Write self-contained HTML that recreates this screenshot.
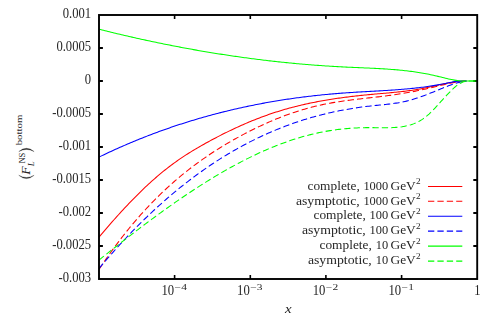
<!DOCTYPE html><html><head><meta charset="utf-8"><title>plot</title><style>html,body{margin:0;padding:0;background:#fff;overflow:hidden}svg{display:block}text{font-family:"Liberation Serif",serif;fill:#262626}</style></head><body>
<svg width="496" height="319" viewBox="0 0 496 319">
<defs><filter id="b" x="-5%" y="-5%" width="110%" height="110%"><feGaussianBlur stdDeviation="0.35"/></filter></defs>
<rect width="496" height="319" fill="#fff"/>
<g filter="url(#b)">
<g stroke="#000" fill="none">
<path d="M99,48 h3.9 M477.2,48 h-3.9" stroke-width="1.8"/>
<path d="M99,81 h3.9 M477.2,81 h-3.9" stroke-width="1.8"/>
<path d="M99,114 h3.9 M477.2,114 h-3.9" stroke-width="1.8"/>
<path d="M99,147 h3.9 M477.2,147 h-3.9" stroke-width="1.8"/>
<path d="M99,180 h3.9 M477.2,180 h-3.9" stroke-width="1.8"/>
<path d="M99,213 h3.9 M477.2,213 h-3.9" stroke-width="1.8"/>
<path d="M99,246 h3.9 M477.2,246 h-3.9" stroke-width="1.8"/>
<path d="M174.6,279 v-3.9 M174.6,15 v3.9" stroke-width="1.6"/>
<path d="M250.3,279 v-3.9 M250.3,15 v3.9" stroke-width="1.6"/>
<path d="M325.9,279 v-3.9 M325.9,15 v3.9" stroke-width="1.6"/>
<path d="M401.6,279 v-3.9 M401.6,15 v3.9" stroke-width="1.6"/>
</g>
<g fill="none" stroke-width="1.05" stroke-linejoin="round">
<path d="M99.0,237.08 L100.5,235.31 L102.0,233.55 L103.5,231.80 L105.0,230.05 L106.5,228.31 L108.0,226.59 L109.5,224.87 L111.0,223.16 L112.5,221.46 L114.0,219.76 L115.5,218.08 L117.0,216.41 L118.5,214.75 L120.0,213.10 L121.5,211.47 L123.0,209.84 L124.5,208.22 L126.0,206.62 L127.5,205.03 L129.0,203.45 L130.5,201.89 L132.0,200.33 L133.5,198.80 L135.0,197.27 L136.5,195.76 L138.0,194.26 L139.5,192.78 L141.0,191.31 L142.5,189.85 L144.0,188.41 L145.5,186.99 L147.0,185.58 L148.5,184.19 L150.0,182.82 L151.5,181.46 L153.0,180.11 L154.5,178.79 L156.0,177.48 L157.5,176.19 L159.0,174.92 L160.5,173.66 L162.0,172.42 L163.5,171.20 L165.0,169.99 L166.5,168.81 L168.0,167.64 L169.5,166.49 L171.0,165.35 L172.5,164.23 L174.0,163.14 L175.5,162.05 L177.0,160.99 L178.5,159.94 L180.0,158.91 L181.5,157.89 L183.0,156.89 L184.5,155.90 L186.0,154.93 L187.5,153.97 L189.0,153.02 L190.5,152.09 L192.0,151.17 L193.5,150.25 L195.0,149.36 L196.5,148.47 L198.0,147.59 L199.5,146.72 L201.0,145.86 L202.5,145.01 L204.0,144.17 L205.5,143.33 L207.0,142.50 L208.5,141.68 L210.0,140.87 L211.5,140.06 L213.0,139.26 L214.5,138.47 L216.0,137.68 L217.5,136.90 L219.0,136.12 L220.5,135.35 L222.0,134.59 L223.5,133.84 L225.0,133.09 L226.5,132.35 L228.0,131.61 L229.5,130.89 L231.0,130.17 L232.5,129.45 L234.0,128.75 L235.5,128.05 L237.0,127.36 L238.5,126.67 L240.0,126.00 L241.5,125.33 L243.0,124.67 L244.5,124.01 L246.0,123.36 L247.5,122.73 L249.0,122.09 L250.5,121.47 L252.0,120.85 L253.5,120.25 L255.0,119.65 L256.5,119.05 L258.0,118.47 L259.5,117.89 L261.0,117.33 L262.5,116.77 L264.0,116.22 L265.5,115.67 L267.0,115.14 L268.5,114.61 L270.0,114.09 L271.5,113.58 L273.0,113.08 L274.5,112.59 L276.0,112.11 L277.5,111.63 L279.0,111.16 L280.5,110.70 L282.0,110.25 L283.5,109.81 L285.0,109.37 L286.5,108.94 L288.0,108.52 L289.5,108.11 L291.0,107.70 L292.5,107.30 L294.0,106.91 L295.5,106.53 L297.0,106.15 L298.5,105.78 L300.0,105.42 L301.5,105.06 L303.0,104.72 L304.5,104.37 L306.0,104.04 L307.5,103.71 L309.0,103.38 L310.5,103.07 L312.0,102.76 L313.5,102.45 L315.0,102.15 L316.5,101.86 L318.0,101.57 L319.5,101.29 L321.0,101.02 L322.5,100.75 L324.0,100.48 L325.5,100.22 L327.0,99.97 L328.5,99.72 L330.0,99.48 L331.5,99.24 L333.0,99.01 L334.5,98.78 L336.0,98.55 L337.5,98.33 L339.0,98.12 L340.5,97.91 L342.0,97.70 L343.5,97.50 L345.0,97.30 L346.5,97.11 L348.0,96.92 L349.5,96.74 L351.0,96.55 L352.5,96.38 L354.0,96.20 L355.5,96.03 L357.0,95.86 L358.5,95.70 L360.0,95.54 L361.5,95.38 L363.0,95.23 L364.5,95.08 L366.0,94.93 L367.5,94.78 L369.0,94.64 L370.5,94.50 L372.0,94.36 L373.5,94.23 L375.0,94.10 L376.5,93.96 L378.0,93.83 L379.5,93.70 L381.0,93.57 L382.5,93.44 L384.0,93.31 L385.5,93.18 L387.0,93.05 L388.5,92.92 L390.0,92.78 L391.5,92.64 L393.0,92.50 L394.5,92.35 L396.0,92.20 L397.5,92.05 L399.0,91.89 L400.5,91.73 L402.0,91.56 L403.5,91.38 L405.0,91.20 L406.5,91.01 L408.0,90.82 L409.5,90.61 L411.0,90.40 L412.5,90.18 L414.0,89.95 L415.5,89.71 L417.0,89.47 L418.5,89.21 L420.0,88.94 L421.5,88.66 L423.0,88.37 L424.5,88.07 L426.0,87.76 L427.5,87.44 L429.0,87.12 L430.5,86.80 L432.0,86.47 L433.5,86.14 L435.0,85.81 L436.5,85.48 L438.0,85.15 L439.5,84.82 L441.0,84.50 L442.5,84.19 L444.0,83.88 L445.5,83.59 L447.0,83.30 L448.5,83.02 L450.0,82.76 L451.5,82.51 L453.0,82.27 L454.5,82.05 L456.0,81.84 L457.5,81.65 L459.0,81.48 L460.5,81.32 L462.0,81.19 L463.5,81.07 L465.0,81.00 L466.5,81.00" stroke="#ff0000"/>
<path d="M99.0,269.42 L100.5,267.17 L102.0,264.93 L103.5,262.72 L105.0,260.53 L106.5,258.37 L108.0,256.22 L109.5,254.10 L111.0,252.01 L112.5,249.93 L114.0,247.88 L115.5,245.84 L117.0,243.83 L118.5,241.84 L120.0,239.88 L121.5,237.93 L123.0,236.00 L124.5,234.10 L126.0,232.21 L127.5,230.35 L129.0,228.51 L130.5,226.68 L132.0,224.88 L133.5,223.09 L135.0,221.33 L136.5,219.58 L138.0,217.86 L139.5,216.15 L141.0,214.46 L142.5,212.79 L144.0,211.14 L145.5,209.51 L147.0,207.90 L148.5,206.30 L150.0,204.72 L151.5,203.16 L153.0,201.62 L154.5,200.09 L156.0,198.58 L157.5,197.09 L159.0,195.62 L160.5,194.16 L162.0,192.72 L163.5,191.29 L165.0,189.88 L166.5,188.49 L168.0,187.11 L169.5,185.75 L171.0,184.40 L172.5,183.07 L174.0,181.76 L175.5,180.46 L177.0,179.17 L178.5,177.90 L180.0,176.64 L181.5,175.40 L183.0,174.17 L184.5,172.96 L186.0,171.75 L187.5,170.57 L189.0,169.39 L190.5,168.23 L192.0,167.09 L193.5,165.95 L195.0,164.83 L196.5,163.72 L198.0,162.62 L199.5,161.54 L201.0,160.47 L202.5,159.40 L204.0,158.36 L205.5,157.32 L207.0,156.29 L208.5,155.28 L210.0,154.27 L211.5,153.28 L213.0,152.30 L214.5,151.33 L216.0,150.37 L217.5,149.42 L219.0,148.47 L220.5,147.54 L222.0,146.62 L223.5,145.71 L225.0,144.81 L226.5,143.91 L228.0,143.03 L229.5,142.15 L231.0,141.29 L232.5,140.43 L234.0,139.58 L235.5,138.74 L237.0,137.90 L238.5,137.08 L240.0,136.26 L241.5,135.45 L243.0,134.65 L244.5,133.85 L246.0,133.07 L247.5,132.29 L249.0,131.52 L250.5,130.76 L252.0,130.00 L253.5,129.26 L255.0,128.52 L256.5,127.80 L258.0,127.08 L259.5,126.36 L261.0,125.66 L262.5,124.97 L264.0,124.28 L265.5,123.60 L267.0,122.94 L268.5,122.28 L270.0,121.63 L271.5,120.98 L273.0,120.35 L274.5,119.73 L276.0,119.11 L277.5,118.50 L279.0,117.90 L280.5,117.32 L282.0,116.74 L283.5,116.16 L285.0,115.60 L286.5,115.05 L288.0,114.51 L289.5,113.97 L291.0,113.45 L292.5,112.93 L294.0,112.43 L295.5,111.93 L297.0,111.44 L298.5,110.96 L300.0,110.49 L301.5,110.03 L303.0,109.59 L304.5,109.15 L306.0,108.71 L307.5,108.29 L309.0,107.88 L310.5,107.48 L312.0,107.09 L313.5,106.71 L315.0,106.34 L316.5,105.97 L318.0,105.62 L319.5,105.28 L321.0,104.95 L322.5,104.63 L324.0,104.31 L325.5,104.01 L327.0,103.72 L328.5,103.43 L330.0,103.16 L331.5,102.89 L333.0,102.63 L334.5,102.37 L336.0,102.13 L337.5,101.89 L339.0,101.66 L340.5,101.43 L342.0,101.21 L343.5,101.00 L345.0,100.79 L346.5,100.58 L348.0,100.38 L349.5,100.19 L351.0,99.99 L352.5,99.81 L354.0,99.62 L355.5,99.44 L357.0,99.26 L358.5,99.08 L360.0,98.91 L361.5,98.74 L363.0,98.57 L364.5,98.40 L366.0,98.23 L367.5,98.06 L369.0,97.89 L370.5,97.72 L372.0,97.55 L373.5,97.38 L375.0,97.21 L376.5,97.03 L378.0,96.86 L379.5,96.68 L381.0,96.50 L382.5,96.32 L384.0,96.14 L385.5,95.95 L387.0,95.76 L388.5,95.56 L390.0,95.36 L391.5,95.16 L393.0,94.95 L394.5,94.73 L396.0,94.51 L397.5,94.28 L399.0,94.05 L400.5,93.81 L402.0,93.57 L403.5,93.32 L405.0,93.06 L406.5,92.80 L408.0,92.53 L409.5,92.26 L411.0,91.98 L412.5,91.70 L414.0,91.41 L415.5,91.12 L417.0,90.82 L418.5,90.51 L420.0,90.20 L421.5,89.89 L423.0,89.57 L424.5,89.24 L426.0,88.91 L427.5,88.57 L429.0,88.23 L430.5,87.89 L432.0,87.54 L433.5,87.18 L435.0,86.82 L436.5,86.46 L438.0,86.09 L439.5,85.73 L441.0,85.36 L442.5,85.00 L444.0,84.64 L445.5,84.29 L447.0,83.95 L448.5,83.62 L450.0,83.29 L451.5,82.99 L453.0,82.69 L454.5,82.41 L456.0,82.15 L457.5,81.91 L459.0,81.69 L460.5,81.49 L462.0,81.32 L463.5,81.17 L465.0,81.04 L466.5,81.00" stroke="#ff0000" stroke-dasharray="6.3 3.1"/>
<path d="M99.0,157.09 L100.5,156.36 L102.0,155.64 L103.5,154.92 L105.0,154.21 L106.5,153.50 L108.0,152.80 L109.5,152.10 L111.0,151.41 L112.5,150.72 L114.0,150.03 L115.5,149.35 L117.0,148.68 L118.5,148.01 L120.0,147.34 L121.5,146.68 L123.0,146.02 L124.5,145.37 L126.0,144.72 L127.5,144.08 L129.0,143.44 L130.5,142.81 L132.0,142.18 L133.5,141.56 L135.0,140.94 L136.5,140.32 L138.0,139.71 L139.5,139.10 L141.0,138.50 L142.5,137.90 L144.0,137.31 L145.5,136.72 L147.0,136.13 L148.5,135.55 L150.0,134.98 L151.5,134.41 L153.0,133.84 L154.5,133.28 L156.0,132.72 L157.5,132.16 L159.0,131.61 L160.5,131.07 L162.0,130.53 L163.5,129.99 L165.0,129.46 L166.5,128.93 L168.0,128.41 L169.5,127.88 L171.0,127.37 L172.5,126.86 L174.0,126.35 L175.5,125.85 L177.0,125.35 L178.5,124.85 L180.0,124.36 L181.5,123.88 L183.0,123.39 L184.5,122.91 L186.0,122.44 L187.5,121.97 L189.0,121.50 L190.5,121.04 L192.0,120.58 L193.5,120.13 L195.0,119.68 L196.5,119.23 L198.0,118.79 L199.5,118.35 L201.0,117.92 L202.5,117.49 L204.0,117.06 L205.5,116.64 L207.0,116.22 L208.5,115.81 L210.0,115.40 L211.5,114.99 L213.0,114.59 L214.5,114.19 L216.0,113.79 L217.5,113.40 L219.0,113.02 L220.5,112.63 L222.0,112.25 L223.5,111.88 L225.0,111.50 L226.5,111.14 L228.0,110.77 L229.5,110.41 L231.0,110.05 L232.5,109.70 L234.0,109.35 L235.5,109.00 L237.0,108.66 L238.5,108.32 L240.0,107.99 L241.5,107.66 L243.0,107.33 L244.5,107.00 L246.0,106.68 L247.5,106.37 L249.0,106.05 L250.5,105.74 L252.0,105.44 L253.5,105.14 L255.0,104.84 L256.5,104.54 L258.0,104.25 L259.5,103.96 L261.0,103.68 L262.5,103.39 L264.0,103.12 L265.5,102.84 L267.0,102.57 L268.5,102.30 L270.0,102.04 L271.5,101.78 L273.0,101.52 L274.5,101.26 L276.0,101.01 L277.5,100.77 L279.0,100.52 L280.5,100.28 L282.0,100.04 L283.5,99.81 L285.0,99.58 L286.5,99.35 L288.0,99.13 L289.5,98.91 L291.0,98.69 L292.5,98.48 L294.0,98.26 L295.5,98.06 L297.0,97.85 L298.5,97.65 L300.0,97.45 L301.5,97.26 L303.0,97.06 L304.5,96.87 L306.0,96.69 L307.5,96.51 L309.0,96.33 L310.5,96.15 L312.0,95.98 L313.5,95.81 L315.0,95.64 L316.5,95.47 L318.0,95.31 L319.5,95.16 L321.0,95.00 L322.5,94.85 L324.0,94.70 L325.5,94.55 L327.0,94.41 L328.5,94.27 L330.0,94.13 L331.5,94.00 L333.0,93.87 L334.5,93.74 L336.0,93.61 L337.5,93.49 L339.0,93.37 L340.5,93.25 L342.0,93.14 L343.5,93.03 L345.0,92.92 L346.5,92.81 L348.0,92.71 L349.5,92.61 L351.0,92.51 L352.5,92.41 L354.0,92.32 L355.5,92.23 L357.0,92.14 L358.5,92.05 L360.0,91.96 L361.5,91.88 L363.0,91.79 L364.5,91.71 L366.0,91.62 L367.5,91.54 L369.0,91.46 L370.5,91.37 L372.0,91.29 L373.5,91.21 L375.0,91.12 L376.5,91.04 L378.0,90.95 L379.5,90.87 L381.0,90.78 L382.5,90.69 L384.0,90.60 L385.5,90.51 L387.0,90.41 L388.5,90.32 L390.0,90.22 L391.5,90.12 L393.0,90.02 L394.5,89.91 L396.0,89.80 L397.5,89.69 L399.0,89.58 L400.5,89.46 L402.0,89.34 L403.5,89.21 L405.0,89.08 L406.5,88.95 L408.0,88.81 L409.5,88.67 L411.0,88.52 L412.5,88.37 L414.0,88.21 L415.5,88.05 L417.0,87.88 L418.5,87.70 L420.0,87.52 L421.5,87.34 L423.0,87.15 L424.5,86.95 L426.0,86.75 L427.5,86.54 L429.0,86.32 L430.5,86.09 L432.0,85.86 L433.5,85.62 L435.0,85.38 L436.5,85.12 L438.0,84.86 L439.5,84.59 L441.0,84.31 L442.5,84.03 L444.0,83.73 L445.5,83.43 L447.0,83.12 L448.5,82.80 L450.0,82.48 L451.5,82.18 L453.0,81.89 L454.5,81.64 L456.0,81.42 L457.5,81.25 L459.0,81.12 L460.5,81.03 L462.0,81.00 L463.5,81.00 L465.0,81.00 L466.5,81.00" stroke="#0000ff"/>
<path d="M99.0,268.50 L100.5,266.71 L102.0,264.93 L103.5,263.16 L105.0,261.41 L106.5,259.66 L108.0,257.93 L109.5,256.20 L111.0,254.49 L112.5,252.79 L114.0,251.11 L115.5,249.43 L117.0,247.76 L118.5,246.11 L120.0,244.47 L121.5,242.84 L123.0,241.22 L124.5,239.61 L126.0,238.01 L127.5,236.42 L129.0,234.85 L130.5,233.28 L132.0,231.73 L133.5,230.19 L135.0,228.66 L136.5,227.14 L138.0,225.63 L139.5,224.13 L141.0,222.64 L142.5,221.17 L144.0,219.70 L145.5,218.25 L147.0,216.80 L148.5,215.37 L150.0,213.95 L151.5,212.53 L153.0,211.13 L154.5,209.74 L156.0,208.36 L157.5,206.99 L159.0,205.64 L160.5,204.29 L162.0,202.95 L163.5,201.62 L165.0,200.31 L166.5,199.00 L168.0,197.70 L169.5,196.42 L171.0,195.14 L172.5,193.88 L174.0,192.63 L175.5,191.38 L177.0,190.15 L178.5,188.92 L180.0,187.71 L181.5,186.51 L183.0,185.31 L184.5,184.13 L186.0,182.96 L187.5,181.79 L189.0,180.64 L190.5,179.50 L192.0,178.36 L193.5,177.24 L195.0,176.13 L196.5,175.02 L198.0,173.93 L199.5,172.84 L201.0,171.77 L202.5,170.71 L204.0,169.65 L205.5,168.61 L207.0,167.57 L208.5,166.54 L210.0,165.53 L211.5,164.52 L213.0,163.52 L214.5,162.54 L216.0,161.56 L217.5,160.59 L219.0,159.63 L220.5,158.68 L222.0,157.74 L223.5,156.81 L225.0,155.89 L226.5,154.97 L228.0,154.07 L229.5,153.18 L231.0,152.29 L232.5,151.42 L234.0,150.55 L235.5,149.69 L237.0,148.84 L238.5,148.00 L240.0,147.17 L241.5,146.35 L243.0,145.54 L244.5,144.74 L246.0,143.94 L247.5,143.16 L249.0,142.38 L250.5,141.61 L252.0,140.85 L253.5,140.10 L255.0,139.36 L256.5,138.63 L258.0,137.90 L259.5,137.19 L261.0,136.48 L262.5,135.78 L264.0,135.09 L265.5,134.41 L267.0,133.74 L268.5,133.07 L270.0,132.42 L271.5,131.77 L273.0,131.13 L274.5,130.50 L276.0,129.88 L277.5,129.26 L279.0,128.66 L280.5,128.06 L282.0,127.47 L283.5,126.89 L285.0,126.32 L286.5,125.75 L288.0,125.19 L289.5,124.65 L291.0,124.10 L292.5,123.57 L294.0,123.05 L295.5,122.53 L297.0,122.02 L298.5,121.52 L300.0,121.03 L301.5,120.54 L303.0,120.07 L304.5,119.60 L306.0,119.13 L307.5,118.68 L309.0,118.23 L310.5,117.79 L312.0,117.36 L313.5,116.94 L315.0,116.52 L316.5,116.11 L318.0,115.71 L319.5,115.32 L321.0,114.93 L322.5,114.55 L324.0,114.18 L325.5,113.81 L327.0,113.45 L328.5,113.10 L330.0,112.76 L331.5,112.42 L333.0,112.09 L334.5,111.77 L336.0,111.45 L337.5,111.14 L339.0,110.84 L340.5,110.54 L342.0,110.25 L343.5,109.97 L345.0,109.70 L346.5,109.43 L348.0,109.16 L349.5,108.91 L351.0,108.66 L352.5,108.41 L354.0,108.18 L355.5,107.95 L357.0,107.72 L358.5,107.50 L360.0,107.29 L361.5,107.09 L363.0,106.89 L364.5,106.69 L366.0,106.51 L367.5,106.33 L369.0,106.15 L370.5,105.98 L372.0,105.82 L373.5,105.66 L375.0,105.51 L376.5,105.36 L378.0,105.21 L379.5,105.06 L381.0,104.91 L382.5,104.76 L384.0,104.61 L385.5,104.45 L387.0,104.29 L388.5,104.12 L390.0,103.94 L391.5,103.76 L393.0,103.56 L394.5,103.35 L396.0,103.13 L397.5,102.90 L399.0,102.65 L400.5,102.38 L402.0,102.10 L403.5,101.80 L405.0,101.48 L406.5,101.13 L408.0,100.77 L409.5,100.38 L411.0,99.97 L412.5,99.54 L414.0,99.08 L415.5,98.61 L417.0,98.12 L418.5,97.62 L420.0,97.09 L421.5,96.56 L423.0,96.01 L424.5,95.45 L426.0,94.88 L427.5,94.30 L429.0,93.71 L430.5,93.11 L432.0,92.50 L433.5,91.90 L435.0,91.28 L436.5,90.67 L438.0,90.05 L439.5,89.44 L441.0,88.82 L442.5,88.20 L444.0,87.60 L445.5,86.99 L447.0,86.40 L448.5,85.82 L450.0,85.26 L451.5,84.71 L453.0,84.19 L454.5,83.70 L456.0,83.23 L457.5,82.80 L459.0,82.40 L460.5,82.03 L462.0,81.71 L463.5,81.43 L465.0,81.20 L466.5,81.01" stroke="#0000ff" stroke-dasharray="6.3 3.1"/>
<path d="M99.0,29.23 L100.5,29.60 L102.0,29.98 L103.5,30.35 L105.0,30.73 L106.5,31.10 L108.0,31.46 L109.5,31.83 L111.0,32.20 L112.5,32.56 L114.0,32.92 L115.5,33.28 L117.0,33.64 L118.5,34.00 L120.0,34.35 L121.5,34.71 L123.0,35.06 L124.5,35.41 L126.0,35.76 L127.5,36.10 L129.0,36.45 L130.5,36.79 L132.0,37.13 L133.5,37.47 L135.0,37.81 L136.5,38.15 L138.0,38.48 L139.5,38.81 L141.0,39.15 L142.5,39.47 L144.0,39.80 L145.5,40.13 L147.0,40.45 L148.5,40.77 L150.0,41.09 L151.5,41.41 L153.0,41.73 L154.5,42.04 L156.0,42.36 L157.5,42.67 L159.0,42.98 L160.5,43.29 L162.0,43.59 L163.5,43.90 L165.0,44.20 L166.5,44.50 L168.0,44.80 L169.5,45.10 L171.0,45.39 L172.5,45.69 L174.0,45.98 L175.5,46.27 L177.0,46.56 L178.5,46.84 L180.0,47.13 L181.5,47.41 L183.0,47.69 L184.5,47.97 L186.0,48.25 L187.5,48.53 L189.0,48.80 L190.5,49.07 L192.0,49.34 L193.5,49.61 L195.0,49.88 L196.5,50.14 L198.0,50.41 L199.5,50.67 L201.0,50.93 L202.5,51.18 L204.0,51.44 L205.5,51.69 L207.0,51.95 L208.5,52.20 L210.0,52.45 L211.5,52.69 L213.0,52.94 L214.5,53.18 L216.0,53.42 L217.5,53.66 L219.0,53.90 L220.5,54.13 L222.0,54.37 L223.5,54.60 L225.0,54.83 L226.5,55.06 L228.0,55.28 L229.5,55.51 L231.0,55.73 L232.5,55.95 L234.0,56.17 L235.5,56.39 L237.0,56.60 L238.5,56.81 L240.0,57.03 L241.5,57.24 L243.0,57.44 L244.5,57.65 L246.0,57.85 L247.5,58.05 L249.0,58.25 L250.5,58.45 L252.0,58.65 L253.5,58.84 L255.0,59.04 L256.5,59.23 L258.0,59.41 L259.5,59.60 L261.0,59.79 L262.5,59.97 L264.0,60.15 L265.5,60.33 L267.0,60.51 L268.5,60.68 L270.0,60.86 L271.5,61.03 L273.0,61.20 L274.5,61.36 L276.0,61.53 L277.5,61.69 L279.0,61.86 L280.5,62.02 L282.0,62.17 L283.5,62.33 L285.0,62.48 L286.5,62.64 L288.0,62.79 L289.5,62.93 L291.0,63.08 L292.5,63.22 L294.0,63.37 L295.5,63.51 L297.0,63.65 L298.5,63.78 L300.0,63.92 L301.5,64.05 L303.0,64.18 L304.5,64.31 L306.0,64.44 L307.5,64.56 L309.0,64.68 L310.5,64.81 L312.0,64.92 L313.5,65.04 L315.0,65.16 L316.5,65.27 L318.0,65.38 L319.5,65.49 L321.0,65.60 L322.5,65.70 L324.0,65.80 L325.5,65.91 L327.0,66.01 L328.5,66.10 L330.0,66.20 L331.5,66.29 L333.0,66.38 L334.5,66.47 L336.0,66.56 L337.5,66.64 L339.0,66.73 L340.5,66.81 L342.0,66.89 L343.5,66.96 L345.0,67.04 L346.5,67.11 L348.0,67.18 L349.5,67.25 L351.0,67.32 L352.5,67.39 L354.0,67.45 L355.5,67.52 L357.0,67.58 L358.5,67.64 L360.0,67.71 L361.5,67.77 L363.0,67.83 L364.5,67.90 L366.0,67.96 L367.5,68.03 L369.0,68.10 L370.5,68.16 L372.0,68.23 L373.5,68.31 L375.0,68.38 L376.5,68.46 L378.0,68.54 L379.5,68.62 L381.0,68.70 L382.5,68.79 L384.0,68.88 L385.5,68.98 L387.0,69.07 L388.5,69.18 L390.0,69.28 L391.5,69.40 L393.0,69.51 L394.5,69.63 L396.0,69.76 L397.5,69.89 L399.0,70.03 L400.5,70.18 L402.0,70.33 L403.5,70.48 L405.0,70.65 L406.5,70.82 L408.0,70.99 L409.5,71.18 L411.0,71.37 L412.5,71.57 L414.0,71.78 L415.5,72.00 L417.0,72.22 L418.5,72.45 L420.0,72.69 L421.5,72.95 L423.0,73.21 L424.5,73.48 L426.0,73.76 L427.5,74.05 L429.0,74.35 L430.5,74.66 L432.0,74.98 L433.5,75.31 L435.0,75.66 L436.5,76.01 L438.0,76.37 L439.5,76.74 L441.0,77.10 L442.5,77.47 L444.0,77.84 L445.5,78.20 L447.0,78.55 L448.5,78.89 L450.0,79.22 L451.5,79.54 L453.0,79.83 L454.5,80.11 L456.0,80.36 L457.5,80.59 L459.0,80.79 L460.5,80.96 L462.0,81.00 L463.5,81.00 L465.0,81.00 L466.5,81.00 L468.0,81.00 L469.5,81.00 L471.0,81.00 L472.5,81.00 L474.0,81.00 L475.5,81.00 L477.0,81.00" stroke="#00ff00"/>
<path d="M99.0,260.05 L100.5,258.85 L102.0,257.65 L103.5,256.46 L105.0,255.27 L106.5,254.07 L108.0,252.89 L109.5,251.70 L111.0,250.51 L112.5,249.33 L114.0,248.15 L115.5,246.97 L117.0,245.79 L118.5,244.61 L120.0,243.44 L121.5,242.27 L123.0,241.10 L124.5,239.93 L126.0,238.77 L127.5,237.61 L129.0,236.45 L130.5,235.30 L132.0,234.14 L133.5,232.99 L135.0,231.84 L136.5,230.70 L138.0,229.56 L139.5,228.42 L141.0,227.29 L142.5,226.15 L144.0,225.03 L145.5,223.90 L147.0,222.78 L148.5,221.66 L150.0,220.55 L151.5,219.43 L153.0,218.33 L154.5,217.22 L156.0,216.12 L157.5,215.03 L159.0,213.93 L160.5,212.85 L162.0,211.76 L163.5,210.68 L165.0,209.60 L166.5,208.53 L168.0,207.46 L169.5,206.40 L171.0,205.34 L172.5,204.29 L174.0,203.24 L175.5,202.19 L177.0,201.15 L178.5,200.11 L180.0,199.08 L181.5,198.05 L183.0,197.03 L184.5,196.02 L186.0,195.00 L187.5,194.00 L189.0,193.00 L190.5,192.00 L192.0,191.01 L193.5,190.02 L195.0,189.04 L196.5,188.07 L198.0,187.10 L199.5,186.13 L201.0,185.17 L202.5,184.22 L204.0,183.27 L205.5,182.33 L207.0,181.40 L208.5,180.47 L210.0,179.55 L211.5,178.63 L213.0,177.72 L214.5,176.81 L216.0,175.91 L217.5,175.02 L219.0,174.13 L220.5,173.26 L222.0,172.38 L223.5,171.52 L225.0,170.66 L226.5,169.80 L228.0,168.96 L229.5,168.12 L231.0,167.28 L232.5,166.46 L234.0,165.64 L235.5,164.83 L237.0,164.02 L238.5,163.23 L240.0,162.44 L241.5,161.65 L243.0,160.88 L244.5,160.11 L246.0,159.35 L247.5,158.60 L249.0,157.85 L250.5,157.11 L252.0,156.38 L253.5,155.66 L255.0,154.95 L256.5,154.24 L258.0,153.54 L259.5,152.85 L261.0,152.17 L262.5,151.50 L264.0,150.83 L265.5,150.17 L267.0,149.52 L268.5,148.88 L270.0,148.25 L271.5,147.63 L273.0,147.01 L274.5,146.41 L276.0,145.81 L277.5,145.22 L279.0,144.64 L280.5,144.07 L282.0,143.51 L283.5,142.95 L285.0,142.41 L286.5,141.88 L288.0,141.35 L289.5,140.84 L291.0,140.33 L292.5,139.83 L294.0,139.34 L295.5,138.87 L297.0,138.40 L298.5,137.94 L300.0,137.49 L301.5,137.05 L303.0,136.62 L304.5,136.20 L306.0,135.79 L307.5,135.39 L309.0,135.00 L310.5,134.62 L312.0,134.25 L313.5,133.90 L315.0,133.55 L316.5,133.21 L318.0,132.88 L319.5,132.57 L321.0,132.26 L322.5,131.96 L324.0,131.68 L325.5,131.41 L327.0,131.14 L328.5,130.89 L330.0,130.64 L331.5,130.41 L333.0,130.19 L334.5,129.97 L336.0,129.77 L337.5,129.58 L339.0,129.39 L340.5,129.22 L342.0,129.05 L343.5,128.90 L345.0,128.75 L346.5,128.62 L348.0,128.49 L349.5,128.37 L351.0,128.26 L352.5,128.16 L354.0,128.07 L355.5,127.98 L357.0,127.91 L358.5,127.84 L360.0,127.79 L361.5,127.74 L363.0,127.70 L364.5,127.66 L366.0,127.64 L367.5,127.62 L369.0,127.61 L370.5,127.61 L372.0,127.62 L373.5,127.63 L375.0,127.65 L376.5,127.67 L378.0,127.69 L379.5,127.72 L381.0,127.74 L382.5,127.75 L384.0,127.76 L385.5,127.77 L387.0,127.76 L388.5,127.74 L390.0,127.70 L391.5,127.65 L393.0,127.58 L394.5,127.50 L396.0,127.39 L397.5,127.25 L399.0,127.10 L400.5,126.91 L402.0,126.70 L403.5,126.45 L405.0,126.17 L406.5,125.86 L408.0,125.50 L409.5,125.11 L411.0,124.67 L412.5,124.18 L414.0,123.63 L415.5,123.02 L417.0,122.35 L418.5,121.60 L420.0,120.79 L421.5,119.90 L423.0,118.92 L424.5,117.85 L426.0,116.70 L427.5,115.45 L429.0,114.11 L430.5,112.70 L432.0,111.21 L433.5,109.67 L435.0,108.09 L436.5,106.46 L438.0,104.81 L439.5,103.14 L441.0,101.47 L442.5,99.80 L444.0,98.14 L445.5,96.51 L447.0,94.91 L448.5,93.34 L450.0,91.82 L451.5,90.32 L453.0,88.87 L454.5,87.48 L456.0,86.20 L457.5,85.04 L459.0,84.03 L460.5,83.16 L462.0,82.44 L463.5,81.86 L465.0,81.44 L466.5,81.16 L468.0,81.01 L469.5,81.00 L471.0,81.00 L472.5,81.00 L474.0,81.00 L475.5,81.00 L477.0,81.00" stroke="#00ff00" stroke-dasharray="6.3 3.1"/>
</g>
<g fill="none" stroke-width="1.05">
<path d="M428,186.4 H462.3" stroke="#ff0000"/>
<path d="M428,201.3 H462.3" stroke="#ff0000" stroke-dasharray="6.3 3.1"/>
<path d="M428,216.2 H462.3" stroke="#0000ff"/>
<path d="M428,231.1 H462.3" stroke="#0000ff" stroke-dasharray="6.3 3.1"/>
<path d="M428,246.1 H462.3" stroke="#00ff00"/>
<path d="M428,261.1 H462.3" stroke="#00ff00" stroke-dasharray="6.3 3.1"/>
</g>
<rect x="99" y="15" width="378.2" height="264" stroke="#000" stroke-width="1.9" fill="none"/>
<text x="62.7" y="18.4" font-size="14" textLength="28.4" lengthAdjust="spacingAndGlyphs">0.001</text>
<text x="56.4" y="51.4" font-size="14" textLength="34.7" lengthAdjust="spacingAndGlyphs">0.0005</text>
<text x="84.8" y="84.4" font-size="14" textLength="6.3" lengthAdjust="spacingAndGlyphs">0</text>
<text x="52.2" y="117.4" font-size="14" textLength="38.9" lengthAdjust="spacingAndGlyphs">-0.0005</text>
<text x="58.5" y="150.4" font-size="14" textLength="32.6" lengthAdjust="spacingAndGlyphs">-0.001</text>
<text x="52.2" y="183.4" font-size="14" textLength="38.9" lengthAdjust="spacingAndGlyphs">-0.0015</text>
<text x="58.5" y="216.4" font-size="14" textLength="32.6" lengthAdjust="spacingAndGlyphs">-0.002</text>
<text x="52.2" y="249.4" font-size="14" textLength="38.9" lengthAdjust="spacingAndGlyphs">-0.0025</text>
<text x="58.5" y="282.4" font-size="14" textLength="32.6" lengthAdjust="spacingAndGlyphs">-0.003</text>
<text x="161.4" y="295.1" font-size="14" textLength="12.7" lengthAdjust="spacingAndGlyphs">10</text>
<text x="174.7" y="289.7" font-size="8.6" textLength="12.2" lengthAdjust="spacingAndGlyphs">−4</text>
<text x="237.1" y="295.1" font-size="14" textLength="12.7" lengthAdjust="spacingAndGlyphs">10</text>
<text x="250.4" y="289.7" font-size="8.6" textLength="12.2" lengthAdjust="spacingAndGlyphs">−3</text>
<text x="312.7" y="295.1" font-size="14" textLength="12.7" lengthAdjust="spacingAndGlyphs">10</text>
<text x="326.0" y="289.7" font-size="8.6" textLength="12.2" lengthAdjust="spacingAndGlyphs">−2</text>
<text x="388.4" y="295.1" font-size="14" textLength="12.7" lengthAdjust="spacingAndGlyphs">10</text>
<text x="401.7" y="289.7" font-size="8.6" textLength="12.2" lengthAdjust="spacingAndGlyphs">−1</text>
<text x="474.3" y="295.1" font-size="14" textLength="6.2" lengthAdjust="spacingAndGlyphs">1</text>
<text x="285.0" y="312.8" font-size="13.5" font-style="italic" textLength="6.6" lengthAdjust="spacingAndGlyphs">x</text>
<text x="307.5" y="189.7" font-size="13" textLength="52.3" lengthAdjust="spacingAndGlyphs">complete,</text>
<text x="363.4" y="189.7" font-size="13" textLength="24.8" lengthAdjust="spacingAndGlyphs">1000</text>
<text x="390.5" y="189.7" font-size="13" textLength="25.3" lengthAdjust="spacingAndGlyphs">GeV</text>
<text x="415.9" y="184.3" font-size="8.6" textLength="4.6" lengthAdjust="spacingAndGlyphs">2</text>
<text x="295.9" y="204.6" font-size="13" textLength="63.9" lengthAdjust="spacingAndGlyphs">asymptotic,</text>
<text x="363.4" y="204.6" font-size="13" textLength="24.8" lengthAdjust="spacingAndGlyphs">1000</text>
<text x="390.5" y="204.6" font-size="13" textLength="25.3" lengthAdjust="spacingAndGlyphs">GeV</text>
<text x="415.9" y="199.2" font-size="8.6" textLength="4.6" lengthAdjust="spacingAndGlyphs">2</text>
<text x="313.5" y="219.4" font-size="13" textLength="52.3" lengthAdjust="spacingAndGlyphs">complete,</text>
<text x="369.6" y="219.4" font-size="13" textLength="18.6" lengthAdjust="spacingAndGlyphs">100</text>
<text x="390.5" y="219.4" font-size="13" textLength="25.3" lengthAdjust="spacingAndGlyphs">GeV</text>
<text x="415.9" y="214.0" font-size="8.6" textLength="4.6" lengthAdjust="spacingAndGlyphs">2</text>
<text x="301.9" y="234.3" font-size="13" textLength="63.9" lengthAdjust="spacingAndGlyphs">asymptotic,</text>
<text x="369.6" y="234.3" font-size="13" textLength="18.6" lengthAdjust="spacingAndGlyphs">100</text>
<text x="390.5" y="234.3" font-size="13" textLength="25.3" lengthAdjust="spacingAndGlyphs">GeV</text>
<text x="415.9" y="228.9" font-size="8.6" textLength="4.6" lengthAdjust="spacingAndGlyphs">2</text>
<text x="319.5" y="249.1" font-size="13" textLength="52.3" lengthAdjust="spacingAndGlyphs">complete,</text>
<text x="375.8" y="249.1" font-size="13" textLength="12.4" lengthAdjust="spacingAndGlyphs">10</text>
<text x="390.5" y="249.1" font-size="13" textLength="25.3" lengthAdjust="spacingAndGlyphs">GeV</text>
<text x="415.9" y="243.7" font-size="8.6" textLength="4.6" lengthAdjust="spacingAndGlyphs">2</text>
<text x="307.9" y="264.0" font-size="13" textLength="63.9" lengthAdjust="spacingAndGlyphs">asymptotic,</text>
<text x="375.8" y="264.0" font-size="13" textLength="12.4" lengthAdjust="spacingAndGlyphs">10</text>
<text x="390.5" y="264.0" font-size="13" textLength="25.3" lengthAdjust="spacingAndGlyphs">GeV</text>
<text x="415.9" y="258.6" font-size="8.6" textLength="4.6" lengthAdjust="spacingAndGlyphs">2</text>
</g>
<g transform="translate(29.6,179.5) rotate(-90)">
<path d="M4.2,-10.8 Q-2.4,-3.15 4.2,4.5 Q-0.2,-3.15 4.2,-10.8Z" fill="#262626" stroke="#262626" stroke-width="0.3"/>
<text x="4.8" y="0" font-size="13" font-style="italic" textLength="8.4" lengthAdjust="spacingAndGlyphs">F</text>
<text x="13.3" y="4.1" font-size="8.8" font-style="italic">L</text>
<text x="15.9" y="-4.9" font-size="8.6" textLength="10.8" lengthAdjust="spacingAndGlyphs">NS</text>
<path d="M27.9,-10.8 Q34.5,-3.15 27.9,4.5 Q32.3,-3.15 27.9,-10.8Z" fill="#262626" stroke="#262626" stroke-width="0.3"/>
<text x="34.2" y="-7.3" font-size="8.6" textLength="30.7" lengthAdjust="spacingAndGlyphs">bottom</text>
</g>
</svg></body></html>
